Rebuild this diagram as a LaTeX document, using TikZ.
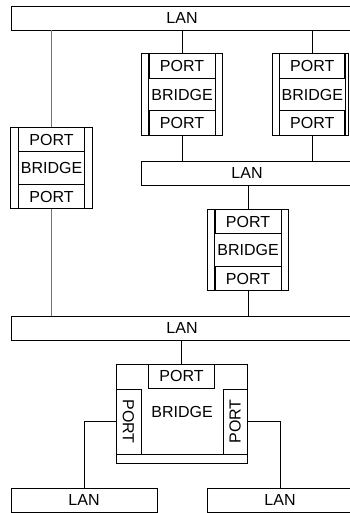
\documentclass[tikz,border=0pt]{standalone}
\usepackage{fontspec}
\usepackage{graphicx}
\setmainfont{Liberation Sans}
\begin{document}
\begin{tikzpicture}[x=1pt,y=-1pt,
  every node/.style={font=\fontsize{16}{18}\selectfont},
  lan/.style={draw,line width=0.8pt,minimum height=24pt,inner sep=0pt,outer sep=0pt},
  portbox/.style={draw,line width=0.8pt,minimum width=66pt,minimum height=24.5pt,inner sep=0pt,outer sep=0pt},
  bridgebox/.style={draw,line width=0.8pt,minimum width=81.5pt,minimum height=81.5pt,inner sep=0pt,outer sep=0pt},
  link/.style={line width=0.8pt,draw=black},
  glink/.style={line width=0.9pt,draw=black!55}]
\useasboundingbox (0,0) rectangle (349,513);
\fill[white] (0,0) rectangle (349,513);

% LANs
\node[lan,minimum width=342pt] (lanA) at (182,18) {LAN};
\node[lan,minimum width=212pt] (lanB) at (247,173) {LAN};
\node[lan,minimum width=342pt] (lanC) at (182,328) {LAN};
\node[lan,minimum width=146pt] (lanD) at (84,500) {LAN};
\node[lan,minimum width=146pt] (lanE) at (280,500) {LAN};

% Bridge 1 (left)
\node[bridgebox] (b1) at (51.5,168) {BRIDGE};
\draw[line width=0.8pt] ([xshift=7.5pt]b1.north west) -- ([xshift=7.5pt]b1.south west);
\draw[line width=0.8pt] ([xshift=-7.5pt]b1.north east) -- ([xshift=-7.5pt]b1.south east);
\node[portbox,anchor=north] (b1a) at (b1.north) {PORT};
\node[portbox,anchor=south] (b1b) at (b1.south) {PORT};

% Bridge 2
\node[bridgebox] (b2) at (182,94.5) {BRIDGE};
\draw[line width=0.8pt] ([xshift=7.5pt]b2.north west) -- ([xshift=7.5pt]b2.south west);
\draw[line width=0.8pt] ([xshift=-7.5pt]b2.north east) -- ([xshift=-7.5pt]b2.south east);
\node[portbox,anchor=north] (b2a) at (b2.north) {PORT};
\node[portbox,anchor=south] (b2b) at (b2.south) {PORT};

% Bridge 3 (right, cut)
\node[bridgebox,minimum width=75.5pt] (b3) at (310.5,94.5) {};
\draw[line width=0.8pt] ([xshift=7pt]b3.north west) -- ([xshift=7pt]b3.south west);
\draw[line width=0.8pt] ([xshift=-3pt]b3.north east) -- ([xshift=-3pt]b3.south east);
\node[portbox,minimum width=65pt,anchor=north west] (b3a) at ([xshift=7pt]b3.north west) {PORT};
\node[portbox,minimum width=65pt,anchor=south west] (b3b) at ([xshift=7pt]b3.south west) {PORT};
\node at (b3a.center |- b3.center) {BRIDGE};

% Bridge 4
\node[bridgebox] (b4) at (248,250) {BRIDGE};
\draw[line width=0.8pt] ([xshift=7.5pt]b4.north west) -- ([xshift=7.5pt]b4.south west);
\draw[line width=0.8pt] ([xshift=-7.5pt]b4.north east) -- ([xshift=-7.5pt]b4.south east);
\node[portbox,anchor=north] (b4a) at (b4.north) {PORT};
\node[portbox,anchor=south] (b4b) at (b4.south) {PORT};

% Bridge 5 (bottom)
\node[draw,line width=0.8pt,minimum width=131pt,minimum height=99pt,inner sep=0pt,outer sep=0pt] (b5) at (181.5,413.5) {};
\node at (182,412) {BRIDGE};
\draw[line width=0.8pt] ([yshift=9pt]b5.south west) -- ([yshift=9pt]b5.south east);
\node[portbox,anchor=north] (b5a) at (b5.north) {PORT};
\node[portbox,minimum width=25pt,minimum height=65pt,anchor=north west] (b5l) at (116,389) {\rotatebox{-90}{PORT}};
\node[portbox,minimum width=24pt,minimum height=65pt,anchor=north east] (b5r) at (247,389) {\rotatebox{90}{PORT}};

% connectors
\draw[glink] (b1a.north |- lanA.south) -- (b1a.north);
\draw[link] (b2a.north |- lanA.south) -- (b2a.north);
\draw[link] (b3a.north |- lanA.south) -- (b3a.north);
\draw[link] (b2b.south) -- (b2b.south |- lanB.north);
\draw[link] (b3b.south) -- (b3b.south |- lanB.north);
\draw[link] (b4a.north |- lanB.south) -- (b4a.north);
\draw[link] (b4b.south) -- (b4b.south |- lanC.north);
\draw[glink] (b1b.south) -- (b1b.south |- lanC.north);
\draw[link] (b5a.north |- lanC.south) -- (b5a.north);
\draw[link] (b5l.west) -| (lanD.north);
\draw[link] (b5r.east) -| (lanE.north);
\end{tikzpicture}
\end{document}
